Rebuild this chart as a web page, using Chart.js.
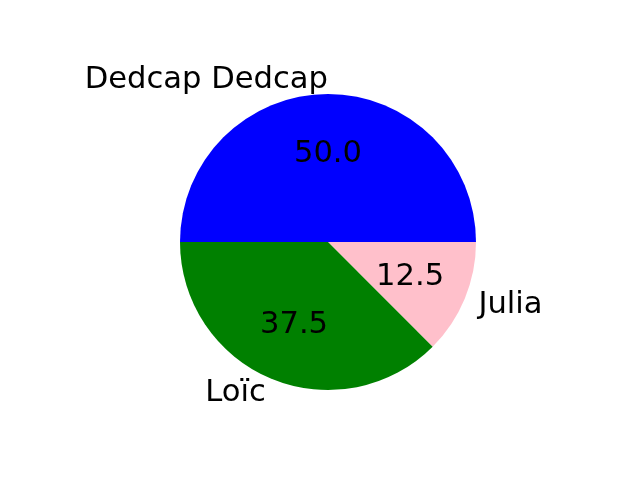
<!DOCTYPE html>
<html>
<head>
<meta charset="utf-8">
<script src="https://cdn.jsdelivr.net/npm/chart.js@4/dist/chart.umd.min.js"></script>
<style>
html,body{margin:0;padding:0;background:#fff;}
#wrap{width:640px;height:480px;}
</style>
</head>
<body>
<div id="wrap"><canvas id="c" width="640" height="480"></canvas></div>
<script>
// Matplotlib order (counter-clockwise from 3 o'clock)
const labels = ["Dedcap Dedcap", "Loïc", "Julia"];
const values = [50, 37.5, 12.5];
const colors = ["blue", "green", "pink"];

// Chart.js draws clockwise, so reverse to mimic counter-clockwise layout
const cjLabels = labels.slice().reverse();
const cjValues = values.slice().reverse();
const cjColors = colors.slice().reverse();

const FONT = "30.6px 'DejaVu Sans'";

const labelPlugin = {
  id: 'pieLabels',
  afterDatasetsDraw(chart) {
    const ctx = chart.ctx;
    const meta = chart.getDatasetMeta(0);
    const total = cjValues.reduce((a, b) => a + b, 0);
    ctx.save();
    ctx.font = FONT;
    ctx.fillStyle = '#000';
    meta.data.forEach((arc, i) => {
      const mid = (arc.startAngle + arc.endAngle) / 2;
      const r = arc.outerRadius;
      const cx = arc.x, cy = arc.y;
      const cos = Math.cos(mid), sin = Math.sin(mid);
      ctx.textAlign = 'center';
      ctx.textBaseline = 'middle';
      const pct = (cjValues[i] / total * 100).toFixed(1);
      ctx.fillText(pct, cx + 0.6 * r * cos, cy + 0.6 * r * sin + 1);
      const lx = cx + 1.1 * r * cos;
      const ly = cy + 1.1 * r * sin + 1;
      ctx.textAlign = (cos > 1e-9) ? 'left' : 'right';
      ctx.fillText(cjLabels[i], lx, ly);
    });
    ctx.restore();
  }
};

new Chart(document.getElementById('c'), {
  type: 'pie',
  data: {
    labels: cjLabels,
    datasets: [{
      data: cjValues,
      backgroundColor: cjColors,
      borderWidth: 0,
      hoverOffset: 0
    }]
  },
  options: {
    responsive: false,
    animation: false,
    rotation: 90,
    layout: { padding: { left: 180, right: 164, top: 94, bottom: 90 } },
    plugins: {
      legend: { display: false },
      tooltip: { enabled: false }
    }
  },
  plugins: [labelPlugin]
});
</script>
</body>
</html>
